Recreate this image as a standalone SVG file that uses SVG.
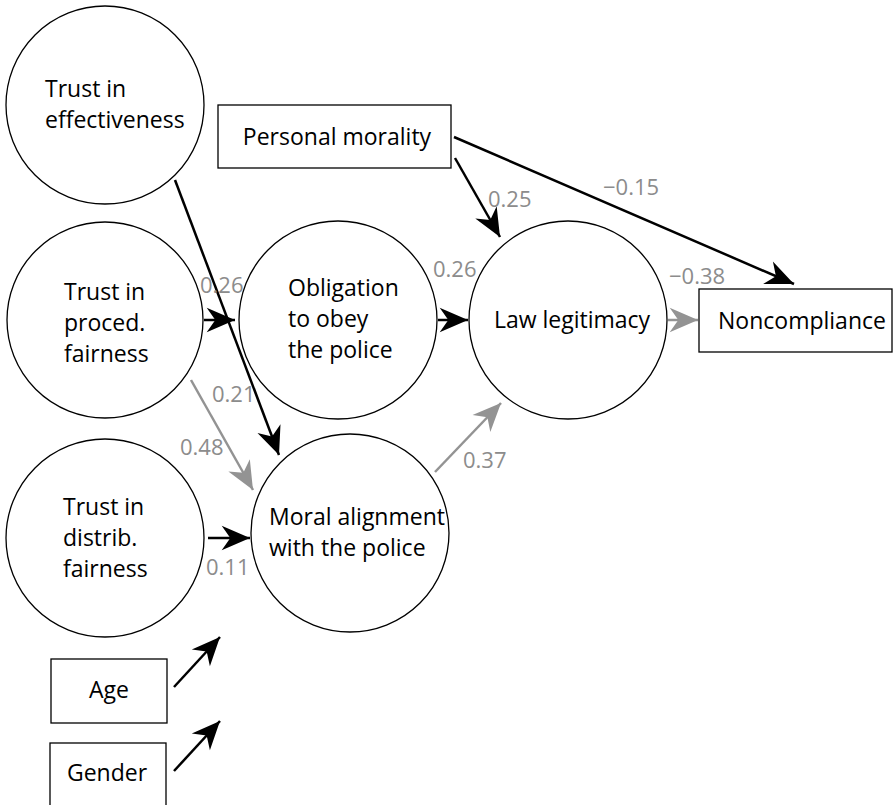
<svg xmlns="http://www.w3.org/2000/svg" width="893" height="805" viewBox="0 0 893 805">
<style>
.node{fill:#fff;stroke:#000;stroke-width:1.3}
.lbl{font-family:"Open Sans","Noto Sans",sans-serif;font-size:23px;fill:#000}
.mid{text-anchor:middle}
.num{font-family:"Open Sans","Noto Sans",sans-serif;font-size:22px;fill:#8c8c8c}
.blk{stroke:#000;stroke-width:2.5;fill:none}
.gry{stroke:#939393;stroke-width:2.5;fill:none}
</style>
<defs>
<marker id="ab" markerUnits="userSpaceOnUse" markerWidth="32" markerHeight="32" viewBox="-24 -12 26 24" refX="0" refY="0" orient="auto">
<path d="M0,0 L-23,-10 L-16,0 L-23,10 Z" fill="#000"/>
</marker>
<marker id="ag" markerUnits="userSpaceOnUse" markerWidth="32" markerHeight="32" viewBox="-24 -12 26 24" refX="0" refY="0" orient="auto">
<path d="M0,0 L-23,-10 L-16,0 L-23,10 Z" fill="#939393"/>
</marker>
</defs>
<rect width="893" height="805" fill="#fff"/>
<g id="connectors">
<line class="blk" x1="204" y1="320" x2="235" y2="320" marker-end="url(#ab)"/>
<line class="blk" x1="438" y1="320" x2="468" y2="320" marker-end="url(#ab)"/>
<line class="blk" x1="175" y1="180" x2="279" y2="455" marker-end="url(#ab)"/>
<line class="gry" x1="191" y1="380" x2="253" y2="490" marker-end="url(#ag)"/>
<line class="blk" x1="208" y1="538" x2="250" y2="538" marker-end="url(#ab)"/>
<line class="gry" x1="435" y1="472" x2="501" y2="403" marker-end="url(#ag)"/>
<line class="blk" x1="455" y1="158" x2="500" y2="237" marker-end="url(#ab)"/>
<line class="blk" x1="454" y1="137" x2="794" y2="284" marker-end="url(#ab)"/>
<line class="gry" x1="668" y1="320" x2="698" y2="320" marker-end="url(#ag)"/>
<line class="blk" x1="174" y1="687" x2="220" y2="637" marker-end="url(#ab)"/>
<line class="blk" x1="174" y1="771" x2="220" y2="721" marker-end="url(#ab)"/>
<text class="num" x="200" y="293">0.26</text>
<text class="num" x="212" y="402">0.21</text>
<text class="num" x="180" y="455">0.48</text>
<text class="num" x="206" y="575">0.11</text>
<text class="num" x="463" y="468">0.37</text>
<text class="num" x="433" y="277">0.26</text>
<text class="num" x="488" y="207">0.25</text>
<text class="num" x="603" y="195">−0.15</text>
<text class="num" x="669" y="284">−0.38</text>
</g>
<g id="trust-effectiveness">
<circle class="node" cx="105" cy="105" r="99"/>
<text class="lbl" x="45" y="97">Trust in</text>
<text class="lbl" x="45" y="128">effectiveness</text>
</g>
<g id="personal-morality">
<rect class="node" x="218" y="105" width="233" height="63"/>
<text class="lbl mid" x="337" y="145">Personal morality</text>
</g>
<g id="trust-proced">
<circle class="node" cx="105" cy="320" r="98"/>
<text class="lbl" x="64" y="300">Trust in</text>
<text class="lbl" x="64" y="331">proced.</text>
<text class="lbl" x="64" y="362">fairness</text>
</g>
<g id="obligation">
<circle class="node" cx="338" cy="320" r="99"/>
<text class="lbl" x="288" y="296">Obligation</text>
<text class="lbl" x="288" y="327">to obey</text>
<text class="lbl" x="288" y="358">the police</text>
</g>
<g id="law-legitimacy">
<circle class="node" cx="568" cy="320" r="99"/>
<text class="lbl mid" x="572" y="328">Law legitimacy</text>
</g>
<g id="noncompliance">
<rect class="node" x="699" y="289" width="193" height="63"/>
<text class="lbl mid" x="802" y="329">Noncompliance</text>
</g>
<g id="trust-distrib">
<circle class="node" cx="105" cy="538" r="99"/>
<text class="lbl" x="63" y="515">Trust in</text>
<text class="lbl" x="63" y="546">distrib.</text>
<text class="lbl" x="63" y="577">fairness</text>
</g>
<g id="moral-alignment">
<circle class="node" cx="350" cy="533" r="99"/>
<text class="lbl" x="269" y="525">Moral alignment</text>
<text class="lbl" x="269" y="556">with the police</text>
</g>
<g id="age">
<rect class="node" x="51" y="659" width="116" height="64"/>
<text class="lbl mid" x="109" y="698">Age</text>
</g>
<g id="gender">
<rect class="node" x="50" y="743" width="116" height="70"/>
<text class="lbl mid" x="107" y="781">Gender</text>
</g>
</svg>
